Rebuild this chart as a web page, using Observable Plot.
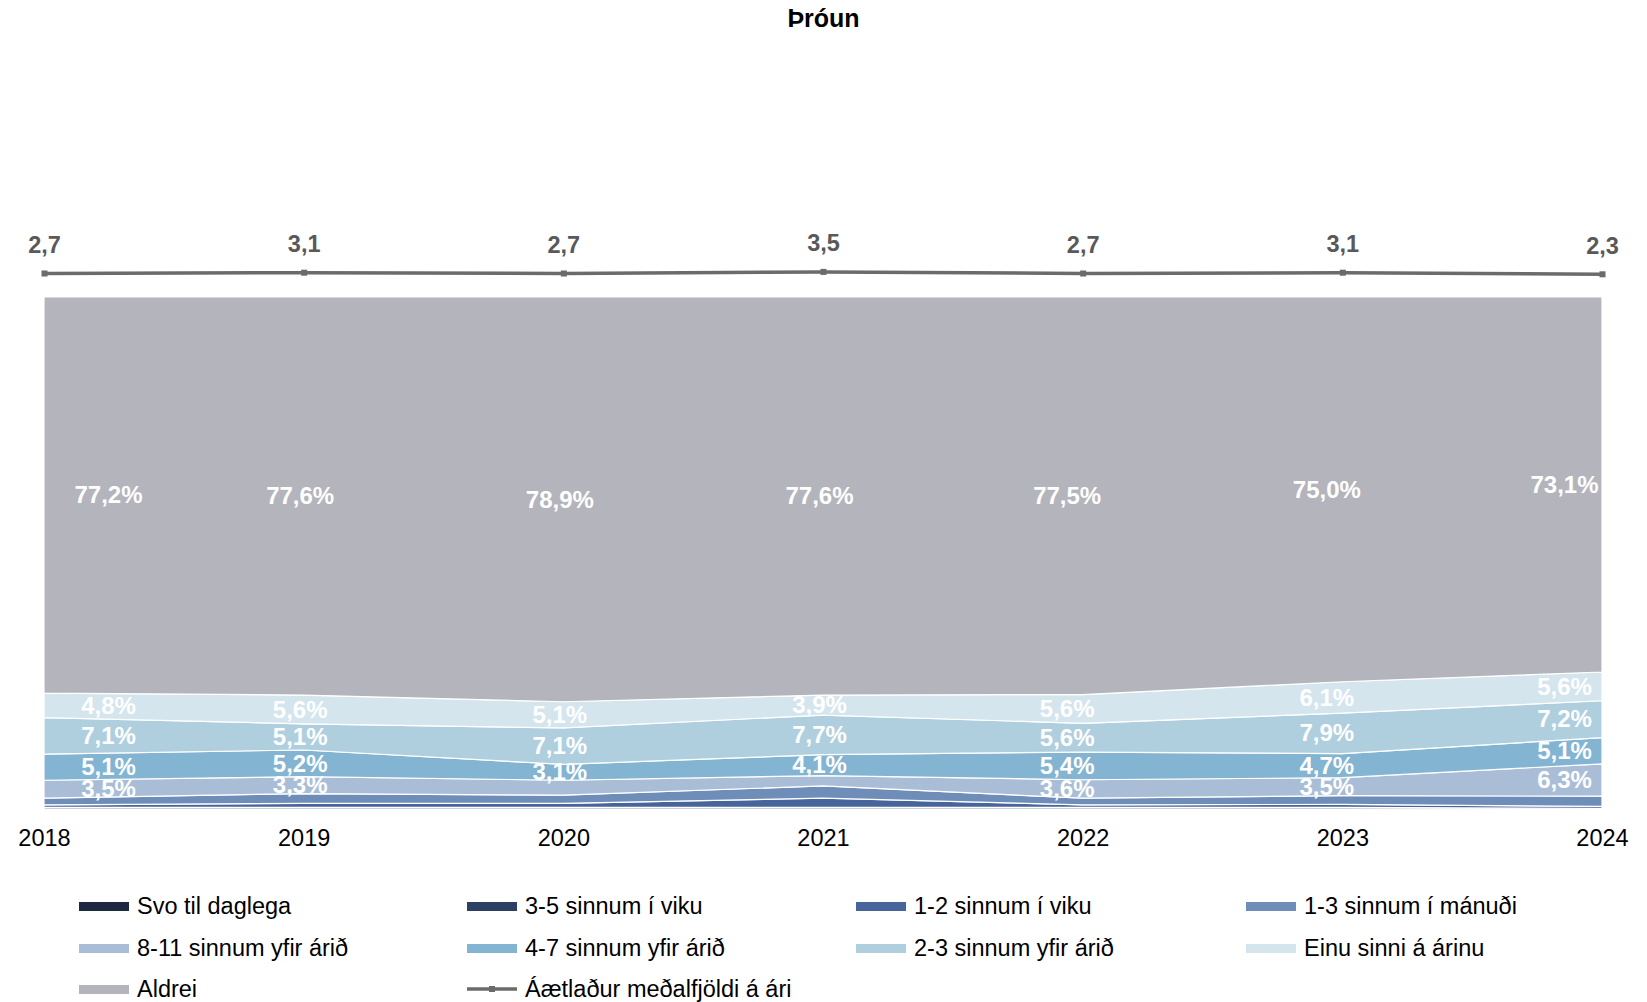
<!DOCTYPE html>
<html>
<head>
<meta charset="utf-8">
<script src="https://cdn.jsdelivr.net/npm/d3@7"></script>
<script src="https://cdn.jsdelivr.net/npm/@observablehq/plot@0.6"></script>
<style>
  html, body { margin: 0; padding: 0; background: #fff; }
  #root { position: relative; width: 1647px; height: 1002px; overflow: hidden; font-family: "Liberation Sans", Arial, sans-serif; }
  .abs { position: absolute; }
  #title { position: absolute; top: 4px; left: 0; width: 1647px; text-align: center; font-weight: bold; font-size: 25px; line-height: 28px; color: #000; }
  .leg { position: absolute; height: 30px; display: flex; align-items: center; font-size: 23.5px; color: #000; white-space: nowrap; }
  .sw { width: 50px; height: 9px; margin-right: 8px; }
</style>
</head>
<body>
<div id="root">
  <div id="title">Þróun</div>
</div>
<script>
// ---- data ----
const years = [2018, 2019, 2020, 2021, 2022, 2023, 2024];
const categories = [
  "Svo til daglega",
  "3-5 sinnum í viku",
  "1-2 sinnum í viku",
  "1-3 sinnum í mánuði",
  "8-11 sinnum yfir árið",
  "4-7 sinnum yfir árið",
  "2-3 sinnum yfir árið",
  "Einu sinni á árinu",
  "Aldrei"
];
const svoTilDaglega   = [0.2, 0.2, 0.2, 0.2, 0.2, 0.2, 0.1];
const sinnum35Viku    = [0.3, 0.3, 0.3, 0.3, 0.3, 0.3, 0.2];
const sinnum12Viku    = [0.5, 0.8, 0.8, 1.8, 0.5, 0.6, 0.4];
const sinnum13Manudi  = [1.3, 1.9, 1.6, 2.4, 1.3, 1.7, 2.0];
const sinnum811Ari    = [3.5, 3.3, 2.9, 2.0, 3.6, 3.5, 6.3];
const sinnum47Ari     = [5.1, 5.2, 3.1, 4.1, 5.4, 4.7, 5.1];
const sinnum23Ari     = [7.1, 5.1, 7.1, 7.7, 5.6, 7.9, 7.2];
const einuSinni       = [4.8, 5.6, 5.1, 3.9, 5.6, 6.1, 5.6];
const aldrei          = [77.2, 77.6, 78.9, 77.6, 77.5, 75.0, 73.1];
const medalfjoldi     = [2.7, 3.1, 2.7, 3.5, 2.7, 3.1, 2.3];
const lineLabel = "Áætlaður meðalfjöldi á ári";
const colors = ["#1c2740", "#2d3f63", "#47649b", "#6e8db8", "#a9bed6", "#83b4d2", "#afcfdf", "#d4e5ee", "#b4b4bd"];
const lineColor = "#6b6b6b";

const series = [svoTilDaglega, sinnum35Viku, sinnum12Viku, sinnum13Manudi, sinnum811Ari, sinnum47Ari, sinnum23Ari, einuSinni, aldrei];
const rows = years.flatMap((yr, i) => series.map((s, k) => ({year: yr, cat: categories[k], value: s[i]})));
const lineRows = years.map((yr, i) => ({year: yr, v: medalfjoldi[i]}));

const pct = v => v.toFixed(1).replace(".", ",") + "%";
const dec = v => v.toFixed(1).replace(".", ",");
const FONT = '"Liberation Sans", Arial, sans-serif';
const root = document.getElementById("root");

function place(el, top) {
  const d = document.createElement("div");
  d.className = "abs";
  d.style.left = "0px";
  d.style.top = top + "px";
  d.appendChild(el);
  root.appendChild(d);
}

// ---- line (average count, on its own wide secondary scale) ----
const linePlot = Plot.plot({
  width: 1647, height: 100,
  marginLeft: 44, marginRight: 45, marginTop: 0, marginBottom: 0,
  x: {type: "linear", domain: [2018, 2024], axis: null},
  y: {domain: [-10.8, 39.2], axis: null},
  style: {fontFamily: FONT, overflow: "visible", background: "transparent"},
  marks: [
    Plot.lineY(lineRows, {x: "year", y: "v", stroke: lineColor, strokeWidth: 3.5}),
    Plot.dot(lineRows, {x: "year", y: "v", symbol: "square", r: 3.4, fill: lineColor}),
    Plot.text(lineRows, {x: "year", y: "v", text: d => dec(d.v), dy: -28, fill: "#595959", fontWeight: "bold", fontSize: 23.5})
  ]
});
place(linePlot, 200);

// ---- stacked area ----
const labelText = d => d.value >= 3 ? pct(d.value) : "";
const textOpts = (dx) => ({x: "year", y: "value", z: "cat", order: categories, text: labelText,
  fill: "white", fontWeight: "bold", fontSize: 24, dx});
const first = rows.filter(d => d.year === years[0]);
const last = rows.filter(d => d.year === years[years.length - 1]);
const early = rows.filter(d => d.year > years[0] && d.year <= 2021);
const late = rows.filter(d => d.year > 2021 && d.year < years[years.length - 1]);

const areaPlot = Plot.plot({
  width: 1647, height: 573,
  marginLeft: 44, marginRight: 45, marginTop: 0, marginBottom: 60,
  x: {type: "linear", domain: [2018, 2024], label: null},
  y: {domain: [0, 100], axis: null},
  color: {domain: categories, range: colors},
  style: {fontFamily: FONT, fontSize: "23.5px", color: "#000", overflow: "visible", background: "transparent"},
  marks: [
    Plot.areaY(rows, {x: "year", y: "value", z: "cat", fill: "cat", order: categories, stroke: "white", strokeWidth: 1.2}),
    Plot.axisX({ticks: years, tickFormat: d => String(d), tickSize: 0, tickPadding: 19, fontSize: 23.5, fill: "#000", label: null}),
    Plot.text(first, Plot.stackY(textOpts(64))),
    Plot.text(early, Plot.stackY(textOpts(-4))),
    Plot.text(late, Plot.stackY(textOpts(-16))),
    Plot.text(last, Plot.stackY(textOpts(-38)))
  ]
});
place(areaPlot, 297);

// ---- legend ----
const colX = [79, 467, 856, 1246];
const rowY = [906, 948, 989];
const legendItems = categories.map((c, k) => ({label: c, color: colors[k], type: "area"}));
legendItems.push({label: lineLabel, color: lineColor, type: "line"});
legendItems.forEach((it, i) => {
  const r = Math.floor(i / 4), c = i % 4;
  const el = document.createElement("div");
  el.className = "leg";
  el.style.left = colX[c] + "px";
  el.style.top = (rowY[r] - 15) + "px";
  if (it.type === "area") {
    const sw = document.createElement("div");
    sw.className = "sw";
    sw.style.background = it.color;
    el.appendChild(sw);
  } else {
    const ns = "http://www.w3.org/2000/svg";
    const s = document.createElementNS(ns, "svg");
    s.setAttribute("width", 50); s.setAttribute("height", 12);
    s.style.marginRight = "8px";
    const ln = document.createElementNS(ns, "line");
    ln.setAttribute("x1", 0); ln.setAttribute("x2", 50); ln.setAttribute("y1", 6); ln.setAttribute("y2", 6);
    ln.setAttribute("stroke", it.color); ln.setAttribute("stroke-width", 3.5);
    const sq = document.createElementNS(ns, "rect");
    sq.setAttribute("x", 22); sq.setAttribute("y", 3); sq.setAttribute("width", 6); sq.setAttribute("height", 6);
    sq.setAttribute("fill", it.color);
    s.appendChild(ln); s.appendChild(sq);
    el.appendChild(s);
  }
  const t = document.createElement("span");
  t.textContent = it.label;
  el.appendChild(t);
  root.appendChild(el);
});
</script>
</body>
</html>
